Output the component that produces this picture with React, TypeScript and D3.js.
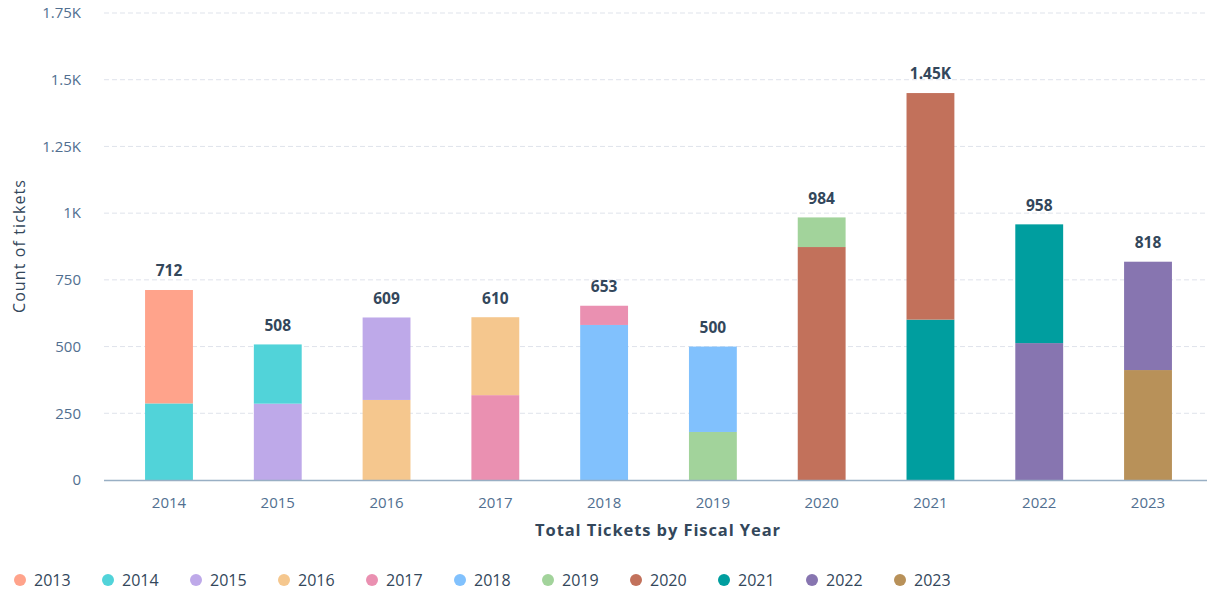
import React from "react";
import * as d3 from "d3";

const fiscalYears = ["2014", "2015", "2016", "2017", "2018", "2019", "2020", "2021", "2022", "2023"];
const seriesNames = ["2013", "2014", "2015", "2016", "2017", "2018", "2019", "2020", "2021", "2022", "2023"];
const seriesColors = ["#ffa38b", "#51d3d9", "#bea9e9", "#f5c78e", "#ea90b1", "#81c1fd", "#a2d39b", "#c2715b", "#009e9f", "#8775b0", "#b89159"];
// values[s][fy]
const v2013 = [425, 0, 0, 0, 0, 0, 0, 0, 0, 0];
const v2014 = [287, 222, 0, 0, 0, 0, 0, 0, 0, 0];
const v2015 = [0, 286, 309, 0, 0, 0, 0, 0, 0, 0];
const v2016 = [0, 0, 300, 292, 0, 0, 0, 0, 0, 0];
const v2017 = [0, 0, 0, 318, 72, 0, 0, 0, 0, 0];
const v2018 = [0, 0, 0, 0, 581, 320, 0, 0, 0, 0];
const v2019 = [0, 0, 0, 0, 0, 180, 111, 0, 0, 0];
const v2020 = [0, 0, 0, 0, 0, 0, 873, 849, 0, 0];
const v2021 = [0, 0, 0, 0, 0, 0, 0, 601, 445, 0];
const v2022 = [0, 0, 0, 0, 0, 0, 0, 0, 513, 406];
const v2023 = [0, 0, 0, 0, 0, 0, 0, 0, 0, 412];
const totals = [712, 508, 609, 610, 653, 500, 984, 1450, 958, 818];
const yTicks = [0, 250, 500, 750, 1000, 1250, 1500, 1750];
const yTickLabels = ["0", "250", "500", "750", "1K", "1.25K", "1.5K", "1.75K"];

const seriesValues = [v2013, v2014, v2015, v2016, v2017, v2018, v2019, v2020, v2021, v2022, v2023];

const W = 1207, H = 596;
const font = "'Open Sans', 'Noto Sans', sans-serif";

export default function App() {
  const y = d3.scaleLinear().domain([0, 1750]).range([480, 13]);
  const x = d3.scaleBand().domain(fiscalYears).range([114.6, 1202.4]).paddingInner(0.56).paddingOuter(0.28);

  // stacking order: later series (the fiscal year itself) at the bottom
  const rows = fiscalYears.map((fy, i) => {
    const r: any = { fy };
    seriesNames.forEach((s, si) => (r[s] = seriesValues[si][i]));
    return r;
  });
  const stack = d3.stack().keys([...seriesNames].reverse());
  const stacked = stack(rows as any);

  const fmt = (v: number) => (v >= 1000 ? (v / 1000).toString() + "K" : String(v));

  return (
    <svg width={W} height={H} style={{ display: "block", position: "absolute", left: 0, top: 0 }}>
      <rect width={W} height={H} fill="#fff" />
      {yTicks.map((t, i) => (
        <g key={t}>
          {t > 0 && (
            <line x1={104} x2={1207} y1={y(t)} y2={y(t)} stroke="#dfe3eb" strokeDasharray="5,3" strokeWidth={1} />
          )}
          <text x={81} y={y(t)} dy="0.35em" textAnchor="end" fontFamily={font} fontSize={15} fill="#516f90">
            {yTickLabels[i]}
          </text>
        </g>
      ))}
      {stacked.map((layer: any) => {
        const si = seriesNames.indexOf(layer.key);
        return (
          <g key={layer.key} fill={seriesColors[si]}>
            {layer.map((d: any, i: number) =>
              d[1] - d[0] > 0 ? (
                <rect key={i} x={x(fiscalYears[i])} width={x.bandwidth()} y={y(d[1])} height={y(d[0]) - y(d[1])} />
              ) : null
            )}
          </g>
        );
      })}
      <line x1={104} x2={1207} y1={480.5} y2={480.5} stroke="#99afc4" strokeWidth={1.5} />
      {fiscalYears.map((fy, i) => (
        <g key={fy}>
          <text x={x(fy)! + x.bandwidth() / 2} y={503} dy="0.35em" textAnchor="middle" fontFamily={font} fontSize={15} fill="#516f90">
            {fy}
          </text>
          <text x={x(fy)! + x.bandwidth() / 2} y={y(totals[i]) - 19} dy="0.35em" textAnchor="middle" fontFamily={font} fontSize={15.5} fontWeight={700} fill="#33475b">
            {fmt(totals[i])}
          </text>
        </g>
      ))}
      <text x={658} y={530} dy="0.35em" textAnchor="middle" fontFamily={font} fontSize={16.5} fontWeight={700} fill="#33475b" letterSpacing={0.9}>
        Total Tickets by Fiscal Year
      </text>
      <text transform="translate(19,246) rotate(-90)" dy="0.35em" textAnchor="middle" fontFamily={font} fontSize={16} fill="#33475b" letterSpacing={1.1}>
        Count of tickets
      </text>
      {seriesNames.map((s, i) => (
        <g key={s} transform={`translate(${20 + i * 88},580)`}>
          <circle r={6} fill={seriesColors[i]} />
          <text x={14} dy="0.35em" fontFamily={font} fontSize={16} fill="#33475b">
            {s}
          </text>
        </g>
      ))}
    </svg>
  );
}
